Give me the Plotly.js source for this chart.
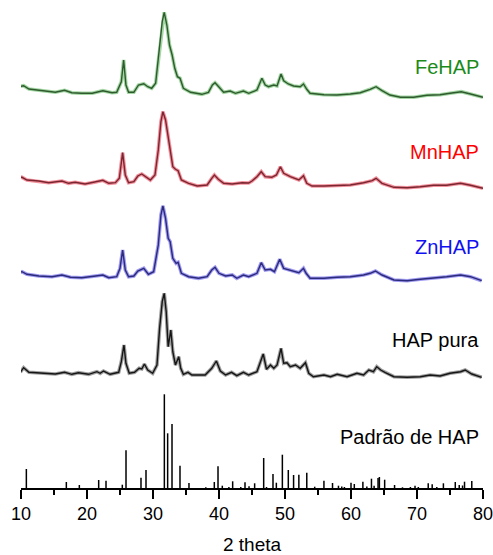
<!DOCTYPE html>
<html>
<head>
<meta charset="utf-8">
<script src="https://cdn.plot.ly/plotly-3.0.1.min.js"></script>
<style>html,body{margin:0;padding:0;background:#fff;}#chart{width:493px;height:555px;}</style>
</head>
<body>
<div id="chart"></div>
<script>
// ---- Data (2theta, intensity in arbitrary units) ----
const feX = [9.6,10.4,11.2,13.2,15.2,16.6,17.7,19.2,20.8,22.4,23.8,24.5,25.2,25.55,25.9,26.3,27.1,27.8,28.6,29.2,29.8,30.4,30.9,31.4,31.7,32.1,32.5,32.9,33.3,33.7,34.1,34.6,35.7,37.4,38.4,39.0,39.4,39.9,40.7,41.7,42.5,43.7,44.5,45.75,46.5,47.0,47.5,48.3,48.8,49.4,49.8,50.5,51.3,52.3,52.8,53.3,53.8,55.9,57.9,59.9,61.4,62.9,63.8,64.7,65.9,67.5,69.5,71.5,73.5,75.0,76.7,78.1,79.1,80.0];
const feY = [11.3,12.3,9,7,5.7,7.7,5.3,4.7,4.7,7.3,5.3,5.7,16.3,38,13,5.7,5.7,13,14.3,11.3,9.7,14.7,43,76.3,85.7,73,53,43,29.7,21.3,19.7,9.7,5.7,3.7,5.7,13,15.3,12,5.7,7,4.7,7,4.7,8,19.7,13,11.3,13,12,24,17.3,14,12,11.3,14,8.7,4.7,3.3,3,4,5.3,8.7,11.3,7.3,3,0.7,0.7,2.7,3.3,4.7,6.3,4,2,0.7];

const mnX = [9.4,10.15,10.9,12.7,14.2,16.2,17.2,18.2,19.7,21.3,22.4,23.3,24.3,24.9,25.4,25.8,26.3,27.1,27.7,28.3,28.9,29.6,30.3,30.8,31.2,31.5,31.9,32.3,32.7,33.0,33.4,33.8,34.3,35.4,36.7,38.2,38.9,39.3,39.9,40.7,42.0,43.5,44.5,45.0,45.75,46.4,47.0,48.0,48.7,49.3,49.8,50.8,52.1,52.8,53.3,54.1,55.9,57.9,59.9,61.9,63.2,63.8,64.7,66.5,68.5,70.5,72.5,74.5,76.6,78.1,80.0];
const mnY = [12.3,11.7,9,8,6.3,8,5.7,6.7,5,7,8.7,5.7,6.3,10.7,36.3,14,6.3,7.3,13,15,12.3,9,14,39,67.3,77.3,69,52.3,35.7,22.3,19.7,18.3,9,5.7,3,4,10.7,14,9.7,5.7,5,6.3,6,8,12.3,17.3,12.3,11.7,14,22.3,15.7,12.3,9,13.3,5.7,3,3,3.3,4,6.3,8.3,10.7,5.7,1.7,1.3,2.3,3.7,3.7,5.7,3.7,0.7];

const znX = [9.4,10.15,10.9,12.7,14.7,16.2,17.5,19.2,21.3,22.4,23.3,24.5,25.0,25.4,25.8,26.3,27.1,27.7,28.6,29.3,30.1,30.8,31.2,31.5,31.9,32.3,32.6,33.0,33.5,33.8,34.3,35.4,36.9,38.2,38.9,39.4,40.0,41.0,42.0,42.7,43.7,44.5,45.75,46.4,47.0,47.8,48.4,49.2,49.8,50.8,52.1,52.8,53.2,53.8,55.9,57.9,59.9,61.9,62.9,63.7,64.7,66.5,68.5,70.5,72.5,74.5,76.6,78.1,79.8];
const znY = [8.7,10.3,7.7,6,5.3,7,4.7,4.3,6,7,4.3,5.3,13.7,32,12,5.3,6,11,13.7,7.7,10.3,37,67,76,63.7,43.7,40.3,23.7,18.7,19.7,8.7,5.3,3.7,5.3,12,14.7,8.7,6,7,3.7,7,5.3,8.7,19.3,12,12.7,10.3,22.7,13.7,12,9.3,13.7,8.7,3.7,3.7,4.7,5.3,7,8.7,11,7,2,1.3,2.7,3.7,5.3,7,5.3,1.3];

const hapX = [9.9,10.4,11.2,13.2,15.2,16.6,17.7,18.7,20.25,21.5,22.0,22.5,23.5,24.8,25.2,25.6,25.9,26.4,27.2,27.9,28.3,28.7,29.2,29.95,30.6,31.0,31.4,31.7,32.0,32.3,32.7,33.0,33.4,33.9,34.2,34.6,35.3,35.9,37.9,38.9,39.6,40.2,41.0,41.9,42.7,43.7,44.5,45.75,46.7,47.2,47.8,48.3,48.8,49.4,49.8,50.3,50.8,51.6,52.3,53.1,53.6,54.3,55.9,56.9,57.9,59.4,60.9,61.9,62.7,63.4,63.9,64.5,65.2,66.5,68.5,70.5,72.0,73.5,75.0,76.6,77.3,78.3,79.8];
const hapY = [5.7,10.3,5.7,4.7,4,5.7,3.7,5.3,3.7,6.3,4.7,7,3.7,5.7,16.3,33,14.7,4.7,5.7,9.7,9,14,8,4.7,13,49.7,76.3,84.7,66.3,31.3,48,26.3,13,21.3,9.7,3.7,5.7,3,3,9.7,17,7,3,5.7,2.3,5.7,3,6.3,24,8.7,13,9.7,13,29.7,14.7,15.3,11.3,13,9.7,15.3,4.7,1.3,3,1.3,3.7,1.3,4.7,3,8,6.3,11.3,8,5.3,1.3,0.7,1.3,3,2,4.7,6.3,8,4,0.7];

// Reference pattern (stick lines)
const refX = [10.81,16.87,18.84,21.77,22.88,25.35,25.91,28.18,28.94,31.72,32.22,32.88,34.09,35.45,38.0,39.29,39.85,40.5,41.5,42.07,43.3,43.94,44.55,45.4,46.77,47.2,48.18,48.69,49.6,50.5,51.3,52.1,53.3,54.5,55.9,57.2,58.1,58.6,59.0,60.0,60.5,61.8,62.4,63.1,63.5,64.1,64.3,65.1,66.6,67.8,69.0,69.7,70.2,71.7,72.3,73.0,74.0,75.8,76.4,76.9,77.2,78.3];
const refY = [19,6,3,8,7.3,3.3,37.7,10.3,18,93.7,54.7,64,22.3,5,0.7,6,21.7,2.3,1,6.7,1,5.7,1.7,4.7,30,1,14,5.3,33.3,18,13,13.3,15.3,1.3,7.3,5,2.3,1.5,1,5.3,4,6.3,1.5,9.3,2.3,10,11,8.3,3,0.7,1,2.3,1,4.7,3.7,1,4.7,6,3,2.5,6.3,7];

const tickVals = [10,20,30,40,50,60,70,80];
const tickText = ["10","20","30","40","50","60","70","80"];

const names = ["FeHAP","MnHAP","ZnHAP","HAP pura","Padrão de HAP"];
const offsets = [390, 299, 206, 110];
const haloColors = ["#a3d6a3","#f3929e","#a09cf2","#a0a0a0"];
const coreColors = ["#2e5a2e","#7a2630","#2c2a7a","#151515"];
const labelColors = ["#1a8a1a","#ff0000","#1010f0","#000000","#000000"];

const series = [[feX,feY],[mnX,mnY],[znX,znY],[hapX,hapY]];
const traces = [];
series.forEach((s, i) => {
  const ys = s[1].map(v => v + offsets[i]);
  traces.push({x: s[0], y: ys, type: 'scatter', mode: 'lines', line: {color: haloColors[i], width: 3.6}, hoverinfo: 'skip', showlegend: false});
  traces.push({x: s[0], y: ys, type: 'scatter', mode: 'lines', name: names[i], line: {color: coreColors[i], width: 1.4}, showlegend: false});
});
// stick pattern
const sx = [], sy = [];
refX.forEach((x, i) => { sx.push(x, x, null); sy.push(0, refY[i], null); });
traces.push({x: sx, y: sy, type: 'scatter', mode: 'lines', name: names[4], line: {color: '#000', width: 1.5}, showlegend: false});

const labelY = [421, 336, 241, 148, 51];
const annotations = names.map((n, i) => ({
  text: n, xref: 'paper', yref: 'y', x: 0.995, y: labelY[i], xanchor: 'right', yanchor: 'middle',
  showarrow: false, font: {family: 'Liberation Sans, Arial, sans-serif', size: 20, color: labelColors[i]}
}));

const layout = {
  width: 493, height: 555,
  margin: {l: 21, r: 10, t: 5, b: 67},
  paper_bgcolor: '#fff', plot_bgcolor: '#fff',
  showlegend: false,
  font: {family: 'Liberation Sans, Arial, sans-serif', color: '#000'},
  xaxis: {
    range: [10, 80], tickmode: 'array', tickvals: tickVals, ticktext: tickText,
    ticks: 'outside', ticklen: 9, tickwidth: 1.5, tickcolor: '#000',
    ticklabeloverflow: 'allow',
    showline: true, linecolor: '#000', linewidth: 1.5, showgrid: false, zeroline: false,
    tickfont: {size: 18, color: '#000'},
    minor: {tickmode: 'linear', tick0: 5, dtick: 5, ticks: 'outside', ticklen: 5, tickwidth: 1.5, tickcolor: '#000', showgrid: false},
    title: {text: '2 theta', font: {size: 19, color: '#000'}, standoff: 14}
  },
  yaxis: {range: [0, 483], visible: false, fixedrange: true},
  annotations: annotations
};

Plotly.newPlot('chart', traces, layout, {displayModeBar: false, staticPlot: true});
</script>
</body>
</html>
